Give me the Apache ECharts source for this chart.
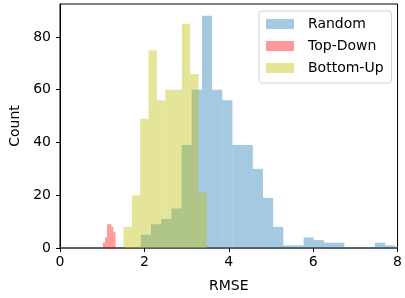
<!DOCTYPE html>
<html>
<head>
<meta charset="utf-8">
<script src="https://cdn.jsdelivr.net/npm/echarts@6/dist/echarts.min.js"></script>
<style>
  html, body { margin: 0; padding: 0; background: #fff; }
  #main { width: 405px; height: 298px; }
</style>
</head>
<body>
<div id="main"></div>
<script>
// histogram bins: first left edge, bin width, counts per bin
var randomStart = 1.916, randomWidth = 0.2412;
var randomCounts = [5, 9, 11, 15, 39, 60, 88, 60, 56, 39, 39, 30, 19, 8, 1, 1, 4, 3, 2, 2, 0, 0, 0, 2, 1];

var topDownStart = 1.016, topDownWidth = 0.05;
var topDownCounts = [2, 4, 9, 9, 8, 6];

var bottomUpStart = 1.505, bottomUpWidth = 0.1977;
var bottomUpCounts = [8, 20, 49, 75, 56, 60, 60, 85, 66, 21];

var xTicks = [0, 2, 4, 6, 8];
var yTicks = [0, 20, 40, 60, 80];

function bins(start, width, counts) {
  return counts.map(function (c, i) {
    return [start + i * width, start + (i + 1) * width, c];
  });
}

function renderBar(params, api) {
  var p0 = api.coord([api.value(0), 0]);
  var p1 = api.coord([api.value(1), api.value(2)]);
  return {
    type: 'rect',
    shape: { x: p0[0], y: p1[1], width: p1[0] - p0[0], height: p0[1] - p1[1] },
    style: api.style()
  };
}

function histSeries(name, color, data) {
  return {
    name: name,
    type: 'custom',
    renderItem: renderBar,
    itemStyle: { color: color },
    encode: { x: [0, 1], y: 2 },
    data: data
  };
}

var font = 'DejaVu Sans';
var myChart = echarts.init(document.getElementById('main'));
var option = {
  animation: false,
  textStyle: { fontFamily: font },
  grid: {
    left: 58, right: 3, top: 4, bottom: 50,
    show: true, borderColor: '#000', borderWidth: 1
  },
  legend: {
    orient: 'vertical',
    left: 259, top: 11,
    padding: [6, 8, 8, 7],
    itemWidth: 28, itemHeight: 10, itemGap: 8,
    icon: 'rect',
    borderColor: '#d0d0d0', borderWidth: 1, borderRadius: 3,
    backgroundColor: 'rgba(255,255,255,0.8)',
    textStyle: { fontFamily: font, fontSize: 14, color: '#000', padding: [0, 0, 0, 9] },
    data: ['Random', 'Top-Down', 'Bottom-Up']
  },
  xAxis: {
    type: 'value',
    min: 0, max: 8, interval: 2,
    name: 'RMSE', nameLocation: 'middle', nameGap: 31,
    nameTextStyle: { fontFamily: font, fontSize: 14, color: '#000' },
    axisLine: { lineStyle: { color: '#555', width: 1.5 } },
    axisTick: { length: 4, lineStyle: { color: '#000' } },
    axisLabel: {
      fontFamily: font, fontSize: 14, color: '#000', margin: 7,
      customValues: xTicks
    },
    splitLine: { show: false }
  },
  yAxis: {
    type: 'value',
    min: 0, max: 92.5, interval: 20,
    name: 'Count', nameLocation: 'middle', nameGap: 38,
    nameTextStyle: { fontFamily: font, fontSize: 14, color: '#000' },
    axisLine: { show: true, lineStyle: { color: '#000' } },
    axisTick: { length: 4, lineStyle: { color: '#000' }, customValues: yTicks },
    axisLabel: {
      fontFamily: font, fontSize: 14, color: '#000', margin: 9,
      customValues: yTicks
    },
    splitLine: { show: false }
  },
  series: [
    histSeries('Random', 'rgba(31,119,180,0.4)', bins(randomStart, randomWidth, randomCounts)),
    histSeries('Top-Down', 'rgba(255,0,0,0.4)', bins(topDownStart, topDownWidth, topDownCounts)),
    histSeries('Bottom-Up', 'rgba(191,191,0,0.4)', bins(bottomUpStart, bottomUpWidth, bottomUpCounts))
  ]
};
myChart.setOption(option);
window.onresize = myChart.resize;
</script>
</body>
</html>
